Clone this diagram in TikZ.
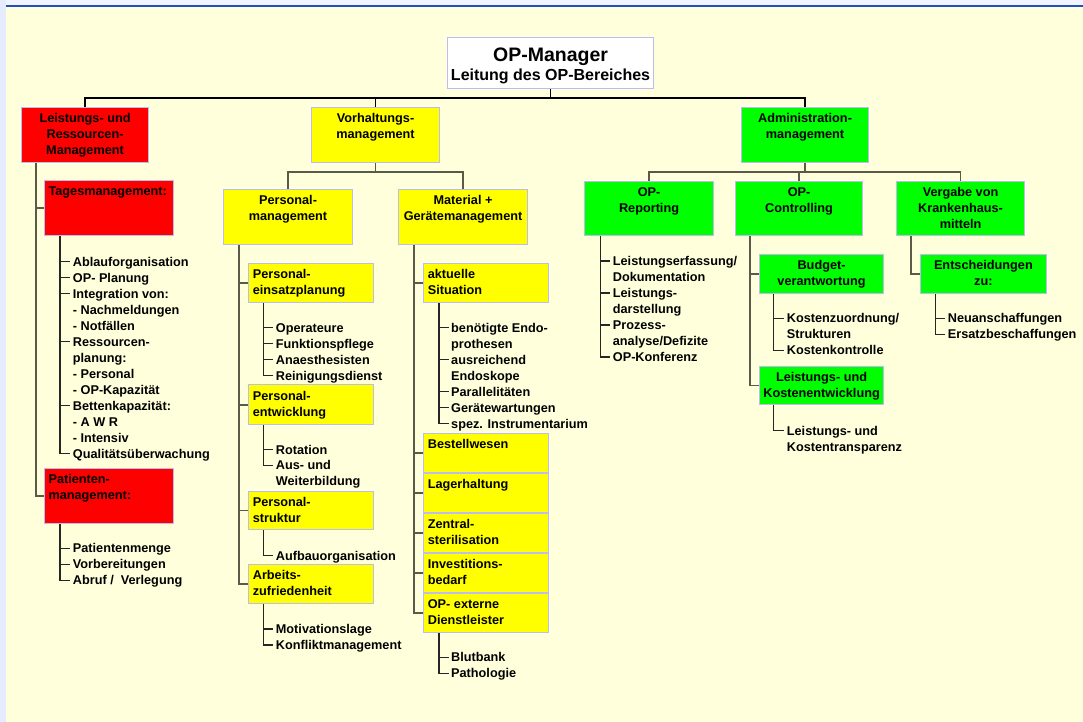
\documentclass[tikz,border=0pt]{standalone}
\usepackage{fontspec}
\setmainfont{Liberation Sans}
\usetikzlibrary{calc}
\definecolor{bgyel}{HTML}{FFFFDC}
\definecolor{bgside}{HTML}{E6ECFF}
\definecolor{bgtop}{HTML}{F0F4FF}
\definecolor{topblue}{HTML}{2050C0}
\definecolor{bred}{HTML}{FF0000}
\definecolor{byel}{HTML}{FFFF00}
\definecolor{bgreen}{HTML}{00FF00}
\definecolor{bline}{HTML}{BCBCF2}
\definecolor{cgray}{HTML}{5A5A4B}
\newcommand\PBC[3]{\parbox[c][#2pt][t]{#1pt}{\centering\vspace*{4pt}\strut#3\par}}
\newcommand\PBL[3]{\parbox[c][#2pt][t]{#1pt}{\raggedright\leftskip=4pt\vspace*{4pt}\strut#3\par}}
\begin{document}
\begin{tikzpicture}[x=1pt,y=-1pt,
  every node/.style={font=\bfseries\fontsize{12.7}{16}\selectfont, inner sep=0pt},
  bx/.style={draw=bline, line width=1.1pt, anchor=north west, inner sep=0pt},
  it/.style={anchor=west, inner sep=0pt, text height=9.1pt, text depth=0pt},
  conn/.style={draw=cgray, line width=1.6pt},
  tick/.style={draw=black!85, line width=1.1pt, shorten >=2.5pt},
  topc/.style={draw=black, line width=1.3pt}]
\useasboundingbox (0,0) rectangle (1083,722);
\fill[bgside] (0,0) rectangle (1083,722);
\fill[bgtop] (6,0) rectangle (1083,5.3);
\fill[topblue] (6,5.3) rectangle (1083,7);
\fill[bgyel] (6,7) rectangle (1083,722);

% top
\node[bx, fill=white] (opm) at (447,37) {\parbox[c][51pt][t]{206pt}{\centering\fontsize{19.5}{18.7}\selectfont\rule{0pt}{24pt}OP-Manager\\\fontsize{16}{18.7}\selectfont Leitung des OP-Bereiches\par}};

% level 1
\node[bx, fill=bred] (lrm) at (21,107) {\PBC{127}{55}{Leistungs- und\\Ressourcen-\\Management}};
\node[bx, fill=byel] (vor) at (311,107) {\PBC{128}{55}{Vorhaltungs-\\management}};
\node[bx, fill=bgreen] (adm) at (741,107) {\PBC{127}{55}{Administration-\\management}};

% Leistungs branch
\node[bx, fill=bred] (tm) at (44,180) {\PBL{129}{55}{Tagesmanagement:}};
\node[bx, fill=bred] (pam) at (44,468) {\PBL{129}{55}{Patienten-\\management:}};

\node[it] (t1) at (72.7,261.7) {Ablauforganisation};
\node[it] (t2) at (72.7,277.7) {OP- Planung};
\node[it] (t3) at (72.7,293.7) {Integration von:};
\node[it] (t4) at (72.7,309.7) {- Nachmeldungen};
\node[it] (t5) at (72.7,325.7) {- Notfällen};
\node[it] (t6) at (72.7,341.7) {Ressourcen-};
\node[it] (t7) at (72.7,357.7) {planung:};
\node[it] (t8) at (72.7,373.7) {- Personal};
\node[it] (t9) at (72.7,389.7) {- OP-Kapazität};
\node[it] (t10) at (72.7,405.7) {Bettenkapazität:};
\node[it] (t11) at (72.7,421.7) {- A W R};
\node[it] (t12) at (72.7,437.7) {- Intensiv};
\node[it] (t13) at (72.7,453.7) {Qualitätsüberwachung};

\node[it] (p1) at (72.7,548.3) {Patientenmenge};
\node[it] (p2) at (72.7,564.3) {Vorbereitungen};
\node[it] (p3) at (72.7,580.3) {Abruf /~ Verlegung};

% Vorhaltung branch
\node[bx, fill=byel] (pmg) at (223,189) {\PBC{129}{55}{Personal-\\management}};
\node[bx, fill=byel] (mat) at (398,189) {\PBC{129}{55}{Material +\\Gerätemanagement}};

\node[bx, fill=byel] (pe) at (248.3,262.7) {\PBL{125}{39.5}{Personal-\\einsatzplanung}};
\node[bx, fill=byel] (pen) at (248.3,384.3) {\PBL{125}{39.7}{Personal-\\entwicklung}};
\node[bx, fill=byel] (ps) at (248.3,490.7) {\PBL{125}{38.6}{Personal-\\struktur}};
\node[bx, fill=byel] (az) at (248.3,564) {\PBL{125}{39.3}{Arbeits-\\zufriedenheit}};

\node[it] (e1) at (275.7,327.7) {Operateure};
\node[it] (e2) at (275.7,343.7) {Funktionspflege};
\node[it] (e3) at (275.7,359.7) {Anaesthesisten};
\node[it] (e4) at (275.7,375.7) {Reinigungsdienst};
\node[it] (w1) at (275.7,449.7) {Rotation};
\node[it] (w2) at (275.7,465.3) {Aus- und};
\node[it] (w3) at (275.7,481.3) {Weiterbildung};
\node[it] (s1) at (275.7,555.7) {Aufbauorganisation};
\node[it] (z1) at (275.7,629) {Motivationslage};
\node[it] (z2) at (275.7,645) {Konfliktmanagement};

\node[bx, fill=byel] (akt) at (423.3,262.7) {\PBL{125}{39.6}{aktuelle\\Situation}};
\node[bx, fill=byel] (bw) at (423.3,432.7) {\PBL{125}{39}{Bestellwesen}};
\node[bx, fill=byel] (lh) at (423.3,472.7) {\PBL{125}{39}{Lagerhaltung}};
\node[bx, fill=byel] (zs) at (423.3,512.7) {\PBL{125}{39}{Zentral-\\sterilisation}};
\node[bx, fill=byel] (inv) at (423.3,552.7) {\PBL{125}{39}{Investitions-\\bedarf}};
\node[bx, fill=byel] (ext) at (423.3,592.7) {\PBL{125}{39}{OP- externe\\Dienstleister}};

\node[it] (a1) at (451,327.7) {benötigte Endo-};
\node[it] (a2) at (451,343.7) {prothesen};
\node[it] (a3) at (451,359.7) {ausreichend};
\node[it] (a4) at (451,375.7) {Endoskope};
\node[it] (a5) at (451,391.7) {Parallelitäten};
\node[it] (a6) at (451,407.7) {Gerätewartungen};
\node[it] (a7) at (451,423.7) {spez. Instrumentarium};
\node[it] (x1) at (451,657.3) {Blutbank};
\node[it] (x2) at (451,673.3) {Pathologie};

% Administration branch
\node[bx, fill=bgreen] (rep) at (584,181) {\PBC{129}{54}{OP-\\Reporting}};
\node[bx, fill=bgreen] (ctl) at (735,181) {\PBC{127}{54}{OP-\\Controlling}};
\node[bx, fill=bgreen] (vg) at (896,181) {\PBC{128}{54}{Vergabe von\\Krankenhaus-\\mitteln}};

\node[it] (r1) at (612.7,261) {Leistungserfassung/};
\node[it] (r2) at (612.7,277) {Dokumentation};
\node[it] (r3) at (612.7,293) {Leistungs-};
\node[it] (r4) at (612.7,309) {darstellung};
\node[it] (r5) at (612.7,325) {Prozess-};
\node[it] (r6) at (612.7,341) {analyse/Defizite};
\node[it] (r7) at (612.7,357) {OP-Konferenz};

\node[bx, fill=bgreen] (bud) at (758.7,254) {\PBC{124.6}{39.3}{Budget-\\verantwortung}};
\node[bx, fill=bgreen] (luk) at (758.7,365.7) {\PBC{124.6}{38.6}{Leistungs- und\\Kostenentwicklung}};
\node[it] (b1) at (786.7,318.3) {Kostenzuordnung/};
\node[it] (b2) at (786.7,334.3) {Strukturen};
\node[it] (b3) at (786.7,350.3) {Kostenkontrolle};
\node[it] (k1) at (786.7,430.7) {Leistungs- und};
\node[it] (k2) at (786.7,446.7) {Kostentransparenz};

\node[bx, fill=bgreen] (ent) at (920,254) {\PBC{125.7}{39.3}{Entscheidungen\\zu:}};
\node[it] (n1) at (947.7,318.3) {Neuanschaffungen};
\node[it] (n2) at (947.7,334.3) {Ersatzbeschaffungen};

% ---------- connectors ----------
\coordinate (bus) at ($(opm.south)+(0,9)$);
\draw[topc] (opm.south) -- (bus);
\draw[topc] (lrm.north) |- (bus) -| (adm.north);
\draw[topc] (vor.north) -- (vor.north |- bus);

\coordinate (vbus) at ($(vor.south)+(0,9)$);
\draw[conn] (vor.south) -- (vbus);
\draw[conn] (pmg.north) |- (vbus) -| (mat.north);

\coordinate (abus) at ($(adm.south)+(0,9)$);
\draw[conn] (adm.south) -- (abus);
\draw[conn] (rep.north) |- (abus) -| (vg.north);
\draw[conn] (ctl.north) -- (ctl.north |- abus);

% Leistungs
\coordinate (lrmv) at ([xshift=15pt]lrm.south west);
\draw[conn] (lrmv) |- (pam.west);
\draw[conn] (lrmv |- tm.west) -- (tm.west);

\coordinate (tmv) at ([xshift=16pt]tm.south west);
\draw[tick] (tmv) |- (t13.west);
\foreach \n in {t1,t2,t3,t6,t10} \draw[tick] (tmv |- \n.west) -- (\n.west);

\coordinate (pamv) at ([xshift=16pt]pam.south west);
\draw[tick] (pamv) |- (p3.west);
\foreach \n in {p1,p2} \draw[tick] (pamv |- \n.west) -- (\n.west);

% Personal
\coordinate (pmgv) at ([xshift=16pt]pmg.south west);
\draw[conn] (pmgv) |- (az.west);
\foreach \n in {pe,pen,ps} \draw[conn] (pmgv |- \n.west) -- (\n.west);

\coordinate (pev) at ([xshift=15pt]pe.south west);
\draw[tick] (pev) |- (e4.west);
\foreach \n in {e1,e2,e3} \draw[tick] (pev |- \n.west) -- (\n.west);

\coordinate (penv) at ([xshift=15pt]pen.south west);
\draw[tick] (penv) |- (w2.west);
\draw[tick] (penv |- w1.west) -- (w1.west);

\coordinate (psv) at ([xshift=15pt]ps.south west);
\draw[tick] (psv) |- (s1.west);

\coordinate (azv) at ([xshift=15pt]az.south west);
\draw[tick] (azv) |- (z2.west);
\draw[tick] (azv |- z1.west) -- (z1.west);

% Material
\coordinate (matv) at ([xshift=16pt]mat.south west);
\draw[conn] (matv) |- (ext.west);
\foreach \n in {akt,bw,lh,zs,inv} \draw[conn] (matv |- \n.west) -- (\n.west);

\coordinate (aktv) at ([xshift=15.7pt]akt.south west);
\draw[tick] (aktv) |- (a7.west);
\foreach \n in {a1,a3,a5,a6} \draw[tick] (aktv |- \n.west) -- (\n.west);

\coordinate (extv) at ([xshift=15.7pt]ext.south west);
\draw[tick] (extv) |- (x2.west);
\draw[tick] (extv |- x1.west) -- (x1.west);

% Administration
\coordinate (repv) at ([xshift=16.7pt]rep.south west);
\draw[tick] (repv) |- (r7.west);
\foreach \n in {r1,r3,r5} \draw[tick] (repv |- \n.west) -- (\n.west);

\coordinate (ctlv) at ([xshift=15pt]ctl.south west);
\draw[conn] (ctlv) |- (luk.west);
\draw[conn] (ctlv |- bud.west) -- (bud.west);

\coordinate (budv) at ([xshift=15pt]bud.south west);
\draw[tick] (budv) |- (b3.west);
\draw[tick] (budv |- b1.west) -- (b1.west);

\coordinate (lukv) at ([xshift=15pt]luk.south west);
\draw[tick] (lukv) |- (k1.west);

\coordinate (vgv) at ([xshift=15pt]vg.south west);
\draw[conn] (vgv) |- (ent.west);

\coordinate (entv) at ([xshift=15.3pt]ent.south west);
\draw[tick] (entv) |- (n2.west);
\draw[tick] (entv |- n1.west) -- (n1.west);
\end{tikzpicture}
\end{document}
